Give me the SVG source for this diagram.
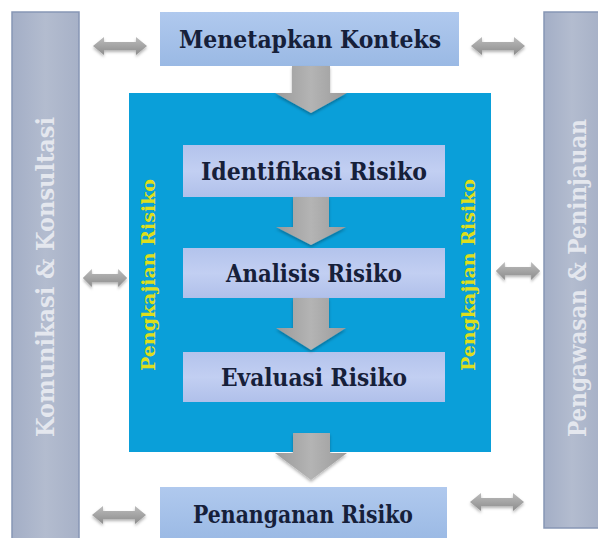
<svg xmlns="http://www.w3.org/2000/svg" width="598" height="538" viewBox="0 0 598 538">
  <defs>
    <linearGradient id="barGrad" x1="0" y1="0" x2="1" y2="0">
      <stop offset="0" stop-color="#a3aec6"/>
      <stop offset="0.5" stop-color="#b3bccf"/>
      <stop offset="1" stop-color="#a7b1c7"/>
    </linearGradient>
    <linearGradient id="topBoxGrad" x1="0" y1="0" x2="0" y2="1">
      <stop offset="0" stop-color="#b0c9ee"/>
      <stop offset="1" stop-color="#9ab9e4"/>
    </linearGradient>
    <linearGradient id="innerGrad" x1="0" y1="0" x2="0" y2="1">
      <stop offset="0" stop-color="#b3c3ec"/>
      <stop offset="0.5" stop-color="#c2cff2"/>
      <stop offset="1" stop-color="#b0c0ea"/>
    </linearGradient>
    <linearGradient id="arrowGrad" x1="0" y1="0" x2="1" y2="0">
      <stop offset="0" stop-color="#9a9a9a"/>
      <stop offset="0.5" stop-color="#b4b4b4"/>
      <stop offset="1" stop-color="#9a9a9a"/>
    </linearGradient>
    <linearGradient id="dblGrad" x1="0" y1="0" x2="0" y2="1">
      <stop offset="0" stop-color="#bcbcbc"/>
      <stop offset="1" stop-color="#8c8c8c"/>
    </linearGradient>
    <filter id="shadow" x="-30%" y="-30%" width="160%" height="160%">
      <feDropShadow dx="0" dy="2" stdDeviation="1.5" flood-color="#000" flood-opacity="0.3"/>
    </filter>
    <!-- horizontal two-way arrow, centred on the origin, 54 wide -->
    <path id="dbl" d="M-27,0 L-16,-9 L-16,-4 L16,-4 L16,-9 L27,0 L16,9 L16,4 L-16,4 L-16,9 Z"/>
  </defs>
  <style>
    .bar { fill: url(#barGrad); stroke: #8796b5; stroke-width: 1.5; }
    .step { fill: url(#innerGrad); }
    .outer { fill: url(#topBoxGrad); }
    .lbl { font-family: "DejaVu Serif", "Liberation Serif", serif; font-weight: bold; fill: #16203a; text-anchor: middle; font-size: 25px; }
    .side { font-family: "DejaVu Serif", "Liberation Serif", serif; font-weight: bold; fill: #e4e7ee; text-anchor: middle; font-size: 24px; }
    .assess { font-family: "DejaVu Serif", "Liberation Serif", serif; font-weight: bold; fill: #dede1c; text-anchor: middle; font-size: 18px; }
    .flow { fill: url(#arrowGrad); filter: url(#shadow); }
    .two { fill: url(#dblGrad); filter: url(#shadow); }
  </style>

  <rect width="598" height="538" fill="#ffffff"/>

  <!-- side bars -->
  <g id="komunikasi">
    <rect class="bar" x="12" y="12" width="67" height="530"/>
    <text class="side" transform="translate(45,277) rotate(-90)" dominant-baseline="central" textLength="320" lengthAdjust="spacingAndGlyphs">Komunikasi &amp; Konsultasi</text>
  </g>
  <g id="pengawasan">
    <rect class="bar" x="544" y="12" width="56" height="516"/>
    <text class="side" transform="translate(577,278) rotate(-90)" dominant-baseline="central" textLength="318" lengthAdjust="spacingAndGlyphs">Pengawasan &amp; Peninjauan</text>
  </g>

  <!-- assessment block -->
  <g id="pengkajian">
    <rect x="129" y="93" width="362" height="359" fill="#0a9fd9"/>
    <text class="assess" transform="translate(148,275) rotate(-90)" dominant-baseline="central" textLength="192" lengthAdjust="spacingAndGlyphs">Pengkajian Risiko</text>
    <text class="assess" transform="translate(468,275) rotate(-90)" dominant-baseline="central" textLength="192" lengthAdjust="spacingAndGlyphs">Pengkajian Risiko</text>
  </g>

  <g id="menetapkan">
    <rect class="outer" x="160" y="12" width="299" height="54"/>
    <text class="lbl" x="310" y="48" textLength="262" lengthAdjust="spacingAndGlyphs">Menetapkan Konteks</text>
  </g>

  <g id="identifikasi">
    <rect class="step" x="183" y="145" width="262" height="52"/>
    <text class="lbl" x="314" y="180" textLength="226" lengthAdjust="spacingAndGlyphs">Identifikasi Risiko</text>
  </g>

  <g id="analisis">
    <rect class="step" x="183" y="248" width="262" height="50"/>
    <text class="lbl" x="314" y="282" textLength="176" lengthAdjust="spacingAndGlyphs">Analisis Risiko</text>
  </g>

  <g id="evaluasi">
    <rect class="step" x="183" y="352" width="262" height="50"/>
    <text class="lbl" x="314" y="386" textLength="186" lengthAdjust="spacingAndGlyphs">Evaluasi Risiko</text>
  </g>

  <g id="penanganan">
    <rect class="outer" x="160" y="487" width="287" height="55"/>
    <text class="lbl" x="303" y="523" textLength="220" lengthAdjust="spacingAndGlyphs">Penanganan Risiko</text>
  </g>

  <!-- connectors -->
  <g id="connectors">
    <path class="flow" d="M292,66 L330,66 L330,93 L347,93 L311,113 L275,93 L292,93 Z"/>
    <path class="flow" d="M293,197 L329,197 L329,227 L346,227 L311,245 L276,227 L293,227 Z"/>
    <path class="flow" d="M293,298 L329,298 L329,328 L346,328 L311,350 L276,328 L293,328 Z"/>
    <path class="flow" d="M293,433 L330,433 L330,453 L347,453 L311,480 L275,453 L293,453 Z"/>

    <use class="two" href="#dbl" transform="translate(120,46)"/>
    <use class="two" href="#dbl" transform="translate(498,46)"/>
    <use class="two" href="#dbl" transform="translate(105,278) scale(0.82,1)"/>
    <use class="two" href="#dbl" transform="translate(518,271) scale(0.82,1)"/>
    <use class="two" href="#dbl" transform="translate(119,515)"/>
    <use class="two" href="#dbl" transform="translate(497,502)"/>
  </g>
</svg>
